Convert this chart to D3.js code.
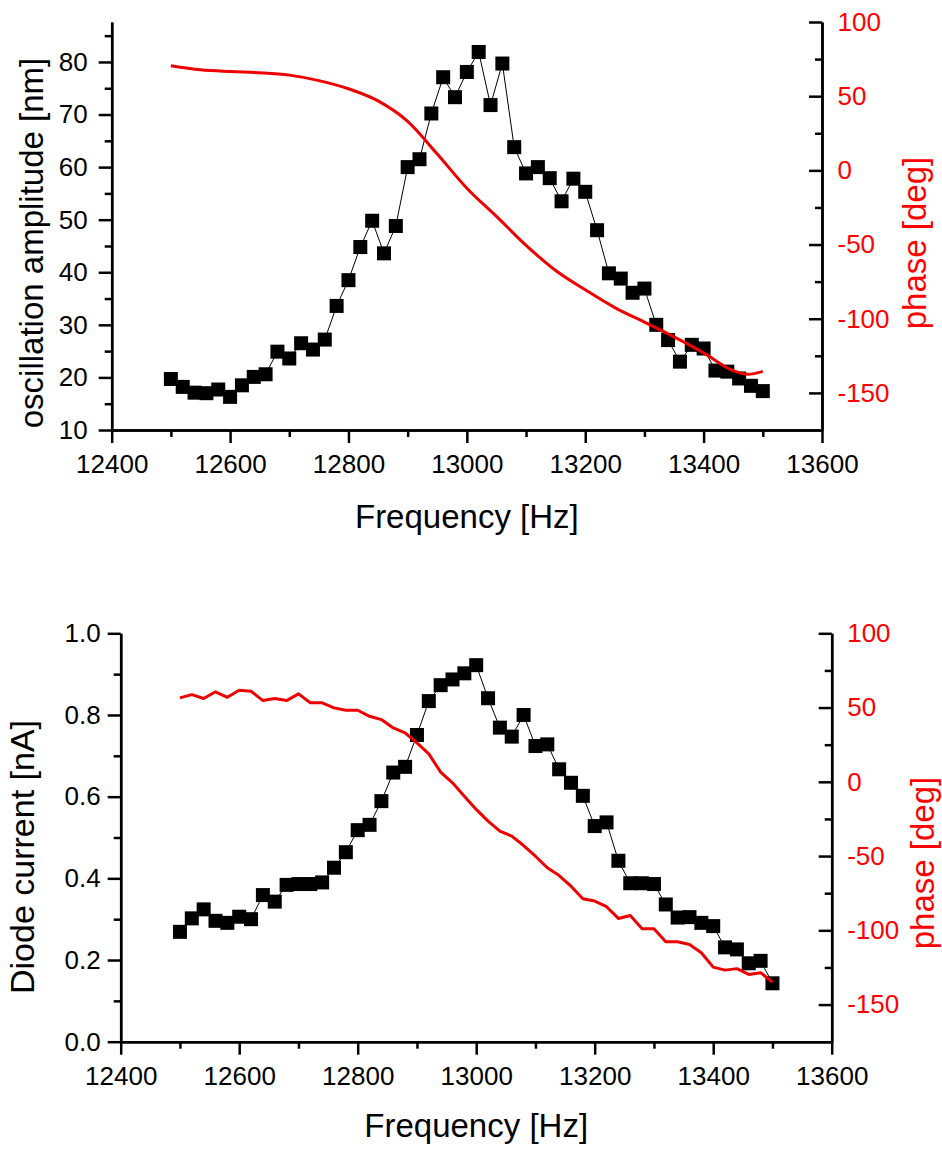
<!DOCTYPE html>
<html>
<head>
<meta charset="utf-8">
<title>Resonance curves</title>
<script src="https://cdn.jsdelivr.net/npm/d3@7"></script>
<style>
  body { margin: 0; background: #fff; }
  svg { display: block; background: #fff; }
  .axis { font-family: "Liberation Sans", Arial, sans-serif; }
  .axis path, .axis line { stroke: #000; stroke-width: 2.5; }
  .axis text { font-size: 26px; fill: #000; }
  .axis.red text { fill: #ff0000; }
  .title { font-family: "Liberation Sans", Arial, sans-serif; font-size: 33px; }
</style>
</head>
<body>
<script>
// sweep frequencies (Hz), one square every 20 Hz
const freq = [12500, 12520, 12540, 12560, 12580, 12600, 12620, 12640, 12660, 12680,
  12700, 12720, 12740, 12760, 12780, 12800, 12820, 12840, 12860, 12880,
  12900, 12920, 12940, 12960, 12980, 13000, 13020, 13040, 13060, 13080,
  13100, 13120, 13140, 13160, 13180, 13200, 13220, 13240, 13260, 13280,
  13300, 13320, 13340, 13360, 13380, 13400, 13420, 13440, 13460, 13480, 13500];

// top panel: oscillation amplitude [nm]
const amplitude = [19.7, 18.2, 17.1, 17.0, 17.7, 16.3, 18.5, 20.1, 20.6, 24.9,
  23.6, 26.5, 25.3, 27.2, 33.6, 38.5, 44.8, 49.8, 43.6, 48.8,
  60.0, 61.5, 70.2, 77.1, 73.3, 78.1, 81.9, 71.8, 79.7, 63.8,
  58.8, 60.0, 57.9, 53.5, 57.8, 55.3, 48.0, 39.8, 38.8, 36.1,
  36.9, 30.0, 27.1, 23.0, 26.2, 25.5, 21.3, 21.1, 19.8, 18.4, 17.4];

// top panel: phase (smooth curve), read every 50 Hz
const phaseFreqTop = [12500, 12550, 12600, 12650, 12700, 12750, 12800, 12850, 12900, 12950,
  13000, 13050, 13100, 13150, 13200, 13250, 13300, 13350, 13400, 13450, 13475, 13500];
const phaseTop = [70.5, 67.8, 66.6, 65.8, 64.2, 60.5, 55.0, 46.8, 33.0, 11.0,
  -12.0, -31.0, -50.5, -67.5, -80.5, -92.5, -102.3, -112.2, -123.0, -135.0, -137.5, -135.5];

// bottom panel: diode current [nA]
const current = [0.269, 0.302, 0.324, 0.296, 0.291, 0.306, 0.300, 0.359, 0.343, 0.384,
  0.386, 0.386, 0.390, 0.426, 0.464, 0.518, 0.531, 0.589, 0.659, 0.673,
  0.751, 0.834, 0.873, 0.887, 0.902, 0.922, 0.841, 0.769, 0.747, 0.800,
  0.724, 0.728, 0.667, 0.634, 0.602, 0.528, 0.537, 0.443, 0.388, 0.388,
  0.386, 0.336, 0.304, 0.305, 0.291, 0.283, 0.231, 0.226, 0.192, 0.198, 0.143];

// bottom panel: phase [deg]
const phaseBottom = [56.5, 58.7, 56.1, 60.6, 56.9, 61.6, 61.0, 54.7, 56.1, 54.7,
  59.2, 53.2, 53.2, 49.8, 48.2, 48.2, 44.1, 41.9, 36.3, 33.0,
  26.2, 18.8, 6.5, -0.7, -9.7, -18.6, -26.5, -33.2, -36.6, -42.9,
  -50.1, -57.9, -63.1, -70.3, -78.7, -80.3, -84.1, -92.0, -90.0, -98.9,
  -98.9, -107.7, -107.7, -109.5, -115.1, -124.8, -126.8, -125.8, -129.7, -128.5, -134.9];

// ticks
const xMajor = [12400, 12600, 12800, 13000, 13200, 13400, 13600];
const xMinor = [12500, 12700, 12900, 13100, 13300, 13500];
const ampMajor = [10, 20, 30, 40, 50, 60, 70, 80];
const ampMinor = [15, 25, 35, 45, 55, 65, 75, 85];
const curMajor = [0, 0.2, 0.4, 0.6, 0.8, 1.0];
const curMinor = [0.1, 0.3, 0.5, 0.7, 0.9];
const phaseMajor = [-150, -100, -50, 0, 50, 100];
const phaseMinor = [-125, -75, -25, 25, 75];

const width = 942, height = 1151;

// plain hyphen for negatives, no thousands separator
const plain = d => String(d);

const svg = d3.select("body").append("svg")
  .attr("width", width)
  .attr("height", height);

function panel(p) {
  const x = d3.scaleLinear().domain([12400, 13600]).range([p.left, p.right]);
  const y = d3.scaleLinear().domain(p.yDomain).range([p.bottom, p.top]);
  const y2 = d3.scaleLinear().domain([-175, 100]).range([p.bottom, p.top]);

  const g = svg.append("g");

  // bottom axis
  g.append("g").attr("class", "axis")
    .attr("transform", "translate(0," + p.bottom + ")")
    .call(d3.axisBottom(x).tickValues(xMinor).tickSize(7).tickSizeOuter(0).tickFormat(""));
  g.append("g").attr("class", "axis")
    .attr("transform", "translate(0," + p.bottom + ")")
    .call(d3.axisBottom(x).tickValues(xMajor).tickSize(13).tickSizeOuter(0)
      .tickPadding(12).tickFormat(plain));

  // left axis
  g.append("g").attr("class", "axis")
    .attr("transform", "translate(" + p.left + ",0)")
    .call(d3.axisLeft(y).tickValues(p.yMinor).tickSize(7).tickSizeOuter(0).tickFormat(""));
  g.append("g").attr("class", "axis")
    .attr("transform", "translate(" + p.left + ",0)")
    .call(d3.axisLeft(y).tickValues(p.yMajor).tickSize(13).tickSizeOuter(0)
      .tickPadding(p.leftPad).tickFormat(p.fmt));

  // right axis, ticks pointing inward
  g.append("g").attr("class", "axis red")
    .attr("transform", "translate(" + p.right + ",0)")
    .call(d3.axisRight(y2).tickValues(phaseMinor).tickSizeInner(-7).tickSizeOuter(0).tickFormat(""));
  g.append("g").attr("class", "axis red")
    .attr("transform", "translate(" + p.right + ",0)")
    .call(d3.axisRight(y2).tickValues(phaseMajor).tickSizeInner(-13).tickSizeOuter(0)
      .tickPadding(15.5).tickFormat(plain));

  // thin connecting line and square markers
  const pts = freq.map((f, i) => [f, p.values[i]]);
  g.append("path")
    .datum(pts)
    .attr("fill", "none")
    .attr("stroke", "#000")
    .attr("stroke-width", 1)
    .attr("d", d3.line().x(d => x(d[0])).y(d => y(d[1])));

  g.selectAll(".sq").data(pts).enter()
    .append("rect")
    .attr("class", "sq")
    .attr("x", d => x(d[0]) - 7)
    .attr("y", d => y(d[1]) - 7)
    .attr("width", 14)
    .attr("height", 14)
    .attr("fill", "#000");

  // phase line
  g.append("path")
    .datum(p.phaseF.map((f, i) => [f, p.phase[i]]))
    .attr("fill", "none")
    .attr("stroke", "#ee0000")
    .attr("stroke-width", 3)
    .attr("stroke-linejoin", "round")
    .attr("d", d3.line().curve(p.curve).x(d => x(d[0])).y(d => y2(d[1])));

  // titles
  g.append("text").attr("class", "title")
    .attr("x", (p.left + p.right) / 2).attr("y", p.xTitleY)
    .attr("text-anchor", "middle")
    .text("Frequency [Hz]");

  g.append("text").attr("class", "title")
    .attr("transform", "translate(" + p.yTitle[0] + "," + p.yTitle[1] + ") rotate(-90)")
    .attr("text-anchor", "middle")
    .style("font-size", p.yTitleSize + "px")
    .text(p.yLabel);

  g.append("text").attr("class", "title")
    .attr("transform", "translate(" + p.y2Title[0] + "," + p.y2Title[1] + ") rotate(-90)")
    .attr("text-anchor", "middle")
    .attr("fill", "#ff0000")
    .text("phase [deg]");
}

panel({
  left: 111.7, right: 822, top: 22, bottom: 430,
  yDomain: [10, 87.6], yMajor: ampMajor, yMinor: ampMinor, fmt: plain, leftPad: 11,
  values: amplitude, phaseF: phaseFreqTop, phase: phaseTop, curve: d3.curveMonotoneX,
  xTitleY: 528, yLabel: "oscillation amplitude [nm]", yTitle: [43, 243], yTitleSize: 33,
  y2Title: [926, 243]
});

panel({
  left: 120.7, right: 831.7, top: 633.3, bottom: 1041.7,
  yDomain: [0, 1], yMajor: curMajor, yMinor: curMinor, fmt: d3.format(".1f"), leftPad: 7,
  values: current, phaseF: freq, phase: phaseBottom, curve: d3.curveLinear,
  xTitleY: 1137, yLabel: "Diode current [nA]", yTitle: [34, 857], yTitleSize: 34,
  y2Title: [934, 863]
});
</script>
</body>
</html>
